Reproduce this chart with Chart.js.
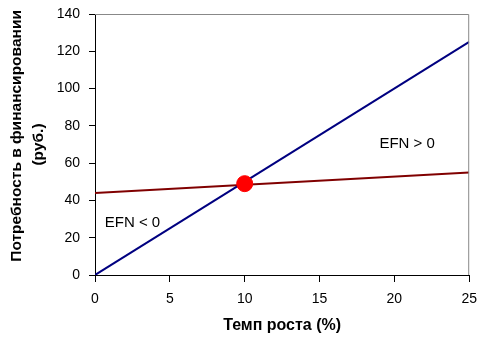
<!DOCTYPE html>
<html><head><meta charset="utf-8">
<script src="https://cdn.jsdelivr.net/npm/chart.js@4/dist/chart.umd.min.js"></script>
<style>html,body{margin:0;padding:0;background:#fff}#w{width:486px;height:346px}</style>
</head><body><div id="w"><canvas id="c"></canvas></div>
<script>
const growthX = [0, 25];
const efnBlue = [0, 125];
const efnRed = [44, 55];
const pointX = [10];
const pointY = [49];
const xTicks = [0, 5, 10, 15, 20, 25];
const yTicks = [0, 20, 40, 60, 80, 100, 120, 140];
const notes = [{x: 19.0, y: 70.5, text: 'EFN > 0'}, {x: 0.65, y: 27.8, text: 'EFN < 0'}];
const xTitle = 'Темп роста (%)';
const yTitle = ['    Потребность в финансировании', '(руб.)'];

const FONT = 'Arial, "Liberation Sans", sans-serif';
Chart.defaults.font.family = FONT;
Chart.defaults.color = '#000';

const boxPlugin = {
  id: 'box',
  afterDatasetsDraw(chart) {
    const {ctx, chartArea: a, scales} = chart;
    ctx.save();
    ctx.strokeStyle = '#888';
    ctx.lineWidth = 1;
    ctx.beginPath();
    ctx.moveTo(a.left, a.top + 0.5);
    ctx.lineTo(a.right - 0.5, a.top + 0.5);
    ctx.lineTo(a.right - 0.5, a.bottom);
    ctx.stroke();
    ctx.fillStyle = '#000';
    ctx.font = '15px ' + FONT;
    ctx.textAlign = 'left';
    ctx.textBaseline = 'middle';
    notes.forEach(n => ctx.fillText(n.text, scales.x.getPixelForValue(n.x), scales.y.getPixelForValue(n.y)));
    ctx.restore();
  }
};

new Chart(document.getElementById('c'), {
  type: 'scatter',
  data: {
    datasets: [
      {data: pointX.map((x, i) => ({x, y: pointY[i]})), pointRadius: 8, pointHoverRadius: 8, backgroundColor: '#ff0000', borderColor: '#ff0000', order: 0},
      {data: growthX.map((x, i) => ({x, y: efnBlue[i]})), showLine: true, borderColor: '#000080', borderWidth: 2, pointRadius: 0, order: 1},
      {data: growthX.map((x, i) => ({x, y: efnRed[i]})), showLine: true, borderColor: '#800000', borderWidth: 2, pointRadius: 0, order: 2}
    ]
  },
  options: {
    responsive: true, maintainAspectRatio: false, animation: false,
    layout: {padding: {top: 14, right: 16, left: 0, bottom: 0}},
    plugins: {legend: {display: false}, tooltip: {enabled: false}},
    scales: {
      x: {
        type: 'linear', min: 0, max: 25,
        afterBuildTicks: s => { s.ticks = xTicks.map(v => ({value: v})); },
        afterFit: s => { s.height = 71; },
        grid: {drawOnChartArea: false, color: '#000', tickLength: 7},
        border: {color: '#000', width: 1},
        ticks: {font: {size: 14}, padding: 9, color: '#000'},
        title: {display: true, text: xTitle, font: {size: 16, weight: 'bold'}, padding: {top: 11, bottom: 11}}
      },
      y: {
        type: 'linear', min: 0, max: 140,
        afterBuildTicks: s => { s.ticks = yTicks.map(v => ({value: v})); },
        afterFit: s => { s.width = 95; s.paddingTop = 8; s.paddingBottom = 8; },
        grid: {drawOnChartArea: false, color: '#000', tickLength: 6},
        border: {color: '#000', width: 1},
        ticks: {font: {size: 14}, padding: 9, color: '#000'},
        title: {display: true, text: yTitle, font: {size: 15.5, weight: 'bold', lineHeight: 1.4}, padding: {top: 6, bottom: 0}}
      }
    }
  },
  plugins: [boxPlugin]
});
</script></body></html>
